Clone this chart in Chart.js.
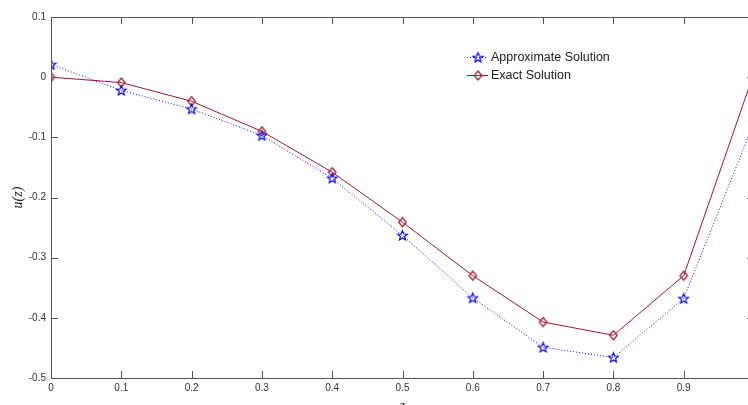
<!DOCTYPE html>
<html lang="en">
<head>
    <meta charset="UTF-8">
    <script src="https://cdn.jsdelivr.net/npm/chart.js"></script>
    <title>u(z)</title>
    <style>
        body { margin: 0; background: #fff; }
        #wrap { width: 748px; height: 405px; overflow: hidden; }
    </style>
</head>
<body>
    <div id="wrap">
        <canvas id="grafico" width="760" height="415" style="width: 760px; height: 415px;"></canvas>
    </div>

    <script>
        // data
        const zValues = [0, 0.1, 0.2, 0.3, 0.4, 0.5, 0.6, 0.7, 0.8, 0.9, 1.0]
        const approxValues = [0.021, -0.022, -0.053, -0.097, -0.168, -0.263, -0.367, -0.449, -0.466, -0.368, -0.075]
        const exactValues = [0, -0.009, -0.040, -0.090, -0.158, -0.241, -0.330, -0.407, -0.429, -0.330, 0.007]
        const xTickValues = [0, 0.1, 0.2, 0.3, 0.4, 0.5, 0.6, 0.7, 0.8, 0.9, 1]
        const yTickValues = [-0.5, -0.4, -0.3, -0.2, -0.1, 0, 0.1]
        const seriesNames = ['Approximate Solution', 'Exact Solution']

        const blue = '#0000ff'
        const red = '#a2142f'
        const axisColor = '#555555'

        // pentagram marker
        const star = document.createElement('canvas')
        star.width = 13; star.height = 13
        let s = star.getContext('2d')
        s.beginPath()
        for (let i = 0; i < 10; i++) {
            let r = i % 2 === 0 ? 5.2 : 2.2
            let a = -Math.PI / 2 + i * Math.PI / 5
            let px = 6.5 + r * Math.cos(a), py = 6.8 + r * Math.sin(a)
            if (i === 0) s.moveTo(px, py); else s.lineTo(px, py)
        }
        s.closePath()
        s.strokeStyle = blue
        s.lineWidth = 1.1
        s.stroke()

        // diamond marker
        const diamond = document.createElement('canvas')
        diamond.width = 11; diamond.height = 13
        let d = diamond.getContext('2d')
        d.beginPath()
        d.moveTo(5.5, 2); d.lineTo(9.3, 6.5); d.lineTo(5.5, 11); d.lineTo(1.7, 6.5)
        d.closePath()
        d.strokeStyle = red
        d.lineWidth = 1.2
        d.stroke()

        const fmt = v => String(Math.round(v * 10) / 10)
        const noPad = sc => { sc.paddingLeft = 0; sc.paddingRight = 0; sc.paddingTop = 0; sc.paddingBottom = 0 }

        const axesBox = {
            id: 'axesBox',
            afterDraw(chart) {
                const c = chart.ctx
                const a = chart.chartArea
                const xs = chart.scales.x, ys = chart.scales.y
                c.save()
                c.strokeStyle = axisColor
                c.lineWidth = 1
                c.strokeRect(a.left + 0.5, a.top + 0.5, a.right - a.left, a.bottom - a.top)
                c.beginPath()
                xTickValues.forEach(v => {
                    let px = Math.round(xs.getPixelForValue(v)) + 0.5
                    c.moveTo(px, a.bottom); c.lineTo(px, a.bottom - 7)
                    c.moveTo(px, a.top); c.lineTo(px, a.top + 7)
                })
                yTickValues.forEach(v => {
                    let py = Math.round(ys.getPixelForValue(v)) + 0.5
                    c.moveTo(a.left, py); c.lineTo(a.left + 7, py)
                    c.moveTo(a.right, py); c.lineTo(a.right - 7, py)
                })
                c.stroke()

                // legend
                const lx = 467, ly = [57, 75]
                const styles = [[blue, [1, 2], star], [red, [], diamond]]
                c.font = '12.5px "Liberation Sans", Arial, sans-serif'
                c.textBaseline = 'middle'
                c.fillStyle = '#222'
                seriesNames.forEach((name, i) => {
                    c.beginPath()
                    c.strokeStyle = styles[i][0]
                    c.setLineDash(styles[i][1])
                    c.moveTo(lx, ly[i] + 0.5); c.lineTo(lx + 21, ly[i] + 0.5)
                    c.stroke()
                    c.setLineDash([])
                    let img = styles[i][2]
                    c.drawImage(img, lx + 11 - img.width / 2, ly[i] + 0.5 - img.height / 2)
                    c.fillText(name, lx + 24, ly[i] + 1)
                })
                c.restore()
            }
        }

        const ctx = document.getElementById('grafico')

        let grafico = new Chart(ctx, {
            type: 'scatter',
            data: {
                datasets: [{
                    label: seriesNames[0],
                    data: zValues.map((z, i) => ({ x: z, y: approxValues[i] })),
                    showLine: true,
                    borderColor: blue,
                    borderWidth: 1,
                    borderDash: [1, 2],
                    pointStyle: star,
                    pointRadius: 5
                }, {
                    label: seriesNames[1],
                    data: zValues.map((z, i) => ({ x: z, y: exactValues[i] })),
                    showLine: true,
                    borderColor: red,
                    borderWidth: 1,
                    pointStyle: diamond,
                    pointRadius: 5
                }]
            },
            options: {
                responsive: false,
                animation: false,
                devicePixelRatio: 1,
                layout: { padding: { top: 17, right: 5, left: 0, bottom: 0 } },
                plugins: {
                    legend: { display: false },
                    tooltip: { enabled: false }
                },
                scales: {
                    x: {
                        type: 'linear',
                        min: 0,
                        max: 1,
                        afterBuildTicks: sc => { sc.ticks = xTickValues.map(v => ({ value: v })) },
                        afterFit: sc => { sc.height = 37; noPad(sc) },
                        grid: { display: false, drawTicks: false },
                        border: { display: false },
                        ticks: {
                            callback: fmt,
                            autoSkip: false,
                            maxRotation: 0,
                            padding: 4,
                            color: '#333',
                            font: { family: '"Liberation Sans", Arial, sans-serif', size: 10 }
                        },
                        title: {
                            display: true,
                            text: 'z',
                            color: '#222',
                            padding: { top: 4, bottom: 0 },
                            font: { family: '"Liberation Serif", serif', style: 'italic', size: 14 }
                        }
                    },
                    y: {
                        min: -0.5,
                        max: 0.1,
                        afterBuildTicks: sc => { sc.ticks = yTickValues.map(v => ({ value: v })) },
                        afterFit: sc => { sc.width = 51; noPad(sc) },
                        grid: { display: false, drawTicks: false },
                        border: { display: false },
                        ticks: {
                            callback: fmt,
                            padding: 5,
                            color: '#333',
                            font: { family: '"Liberation Sans", Arial, sans-serif', size: 10 }
                        },
                        title: {
                            display: true,
                            text: 'u(z)',
                            color: '#222',
                            padding: { top: 10, bottom: 0 },
                            font: { family: '"Liberation Serif", serif', style: 'italic', size: 14 }
                        }
                    }
                }
            },
            plugins: [axesBox]
        });
    </script>
</body>
</html>
